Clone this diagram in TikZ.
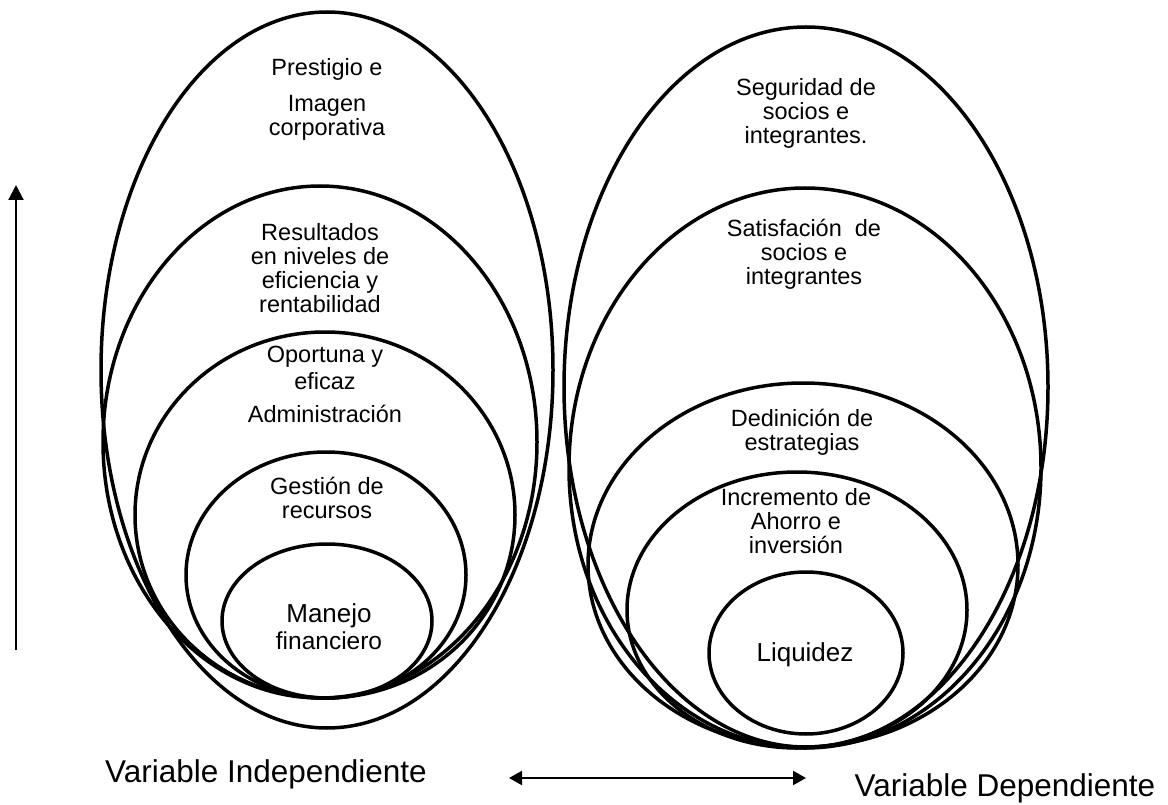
\documentclass[tikz,border=0pt]{standalone}
\usepackage{fontspec}
\setmainfont{Liberation Sans}
\usetikzlibrary{arrows.meta}
\begin{document}
\begin{tikzpicture}[x=1pt,y=-1pt,
  ring/.style={line width=3.5pt},
  lbl/.style={font=\fontsize{23.5}{24}\selectfont, align=center, inner sep=0pt},
  big/.style={font=\fontsize{31.5}{36}\selectfont, inner sep=0pt},
  axis/.style={line width=2pt, -{Triangle[length=15pt,width=15pt]}},
  both/.style={line width=2.2pt, {Triangle[length=13pt,width=14pt]}-{Triangle[length=13pt,width=14pt]}}]
\useasboundingbox (0,0) rectangle (1168,805);
% left group
\draw[ring] (327,370) ellipse [x radius=226pt, y radius=358pt];
\draw[ring] (320,442) ellipse [x radius=217pt, y radius=256pt];
\draw[ring] (325,515) ellipse [x radius=190pt, y radius=183pt];
\draw[ring] (326,575) ellipse [x radius=140pt, y radius=123pt];
\draw[ring] (327,621) ellipse [x radius=105pt, y radius=77pt];
% right group
\draw[ring] (806,387) ellipse [x radius=242pt, y radius=360pt];
\draw[ring] (805,468) ellipse [x radius=236pt, y radius=280pt];
\draw[ring] (803,565) ellipse [x radius=215pt, y radius=182pt];
\draw[ring] (797,610) ellipse [x radius=170pt, y radius=138pt];
\draw[ring] (806,653) ellipse [x radius=97pt, y radius=81pt];
% left labels
\node[lbl] (prest) at (327,69) {Prestigio e};
\node[lbl] (imag) at (327,118) {Imagen\\corporativa};
\node[lbl] (resu) at (320,268) {Resultados\\en niveles de\\eficiencia y\\rentabilidad};
\node[lbl, font=\fontsize{23.5}{27}\selectfont] (opor) at (325,368) {Oportuna y\\eficaz};
\node[lbl] (admi) at (325,414) {Administración};
\node[lbl] (gest) at (327,498) {Gestión de\\recursos};
\node[lbl, font=\fontsize{24.5}{27}\selectfont] (mane) at (329,627) {{\fontsize{26}{27}\selectfont Manejo}\\financiero};
% right labels
\node[lbl] (segu) at (806,113) {Seguridad de\\socios e\\integrantes.};
\node[lbl] (sati) at (804,254) {Satisfación~~de\\socios e\\integrantes};
\node[lbl] (dedi) at (802,432) {Dedinición de\\estrategias};
\node[lbl] (incr) at (796,521) {Incremento de\\Ahorro e\\inversión};
\node[lbl, font=\fontsize{26}{27}\selectfont] (liqu) at (805,655) {Liquidez};
% bottom labels
\node[big] (vind) at (266,774) {Variable Independiente};
\node[big] (vdep) at (1005,788) {Variable Dependiente};
% arrows
\coordinate (vb) at (16,650);
\coordinate (vt) at (16,185);
\draw[axis] (vb) -- (vt);
\coordinate (hl) at (509,778);
\coordinate (hr) at (806,778);
\draw[both] (hl) -- (hr);
\end{tikzpicture}
\end{document}
